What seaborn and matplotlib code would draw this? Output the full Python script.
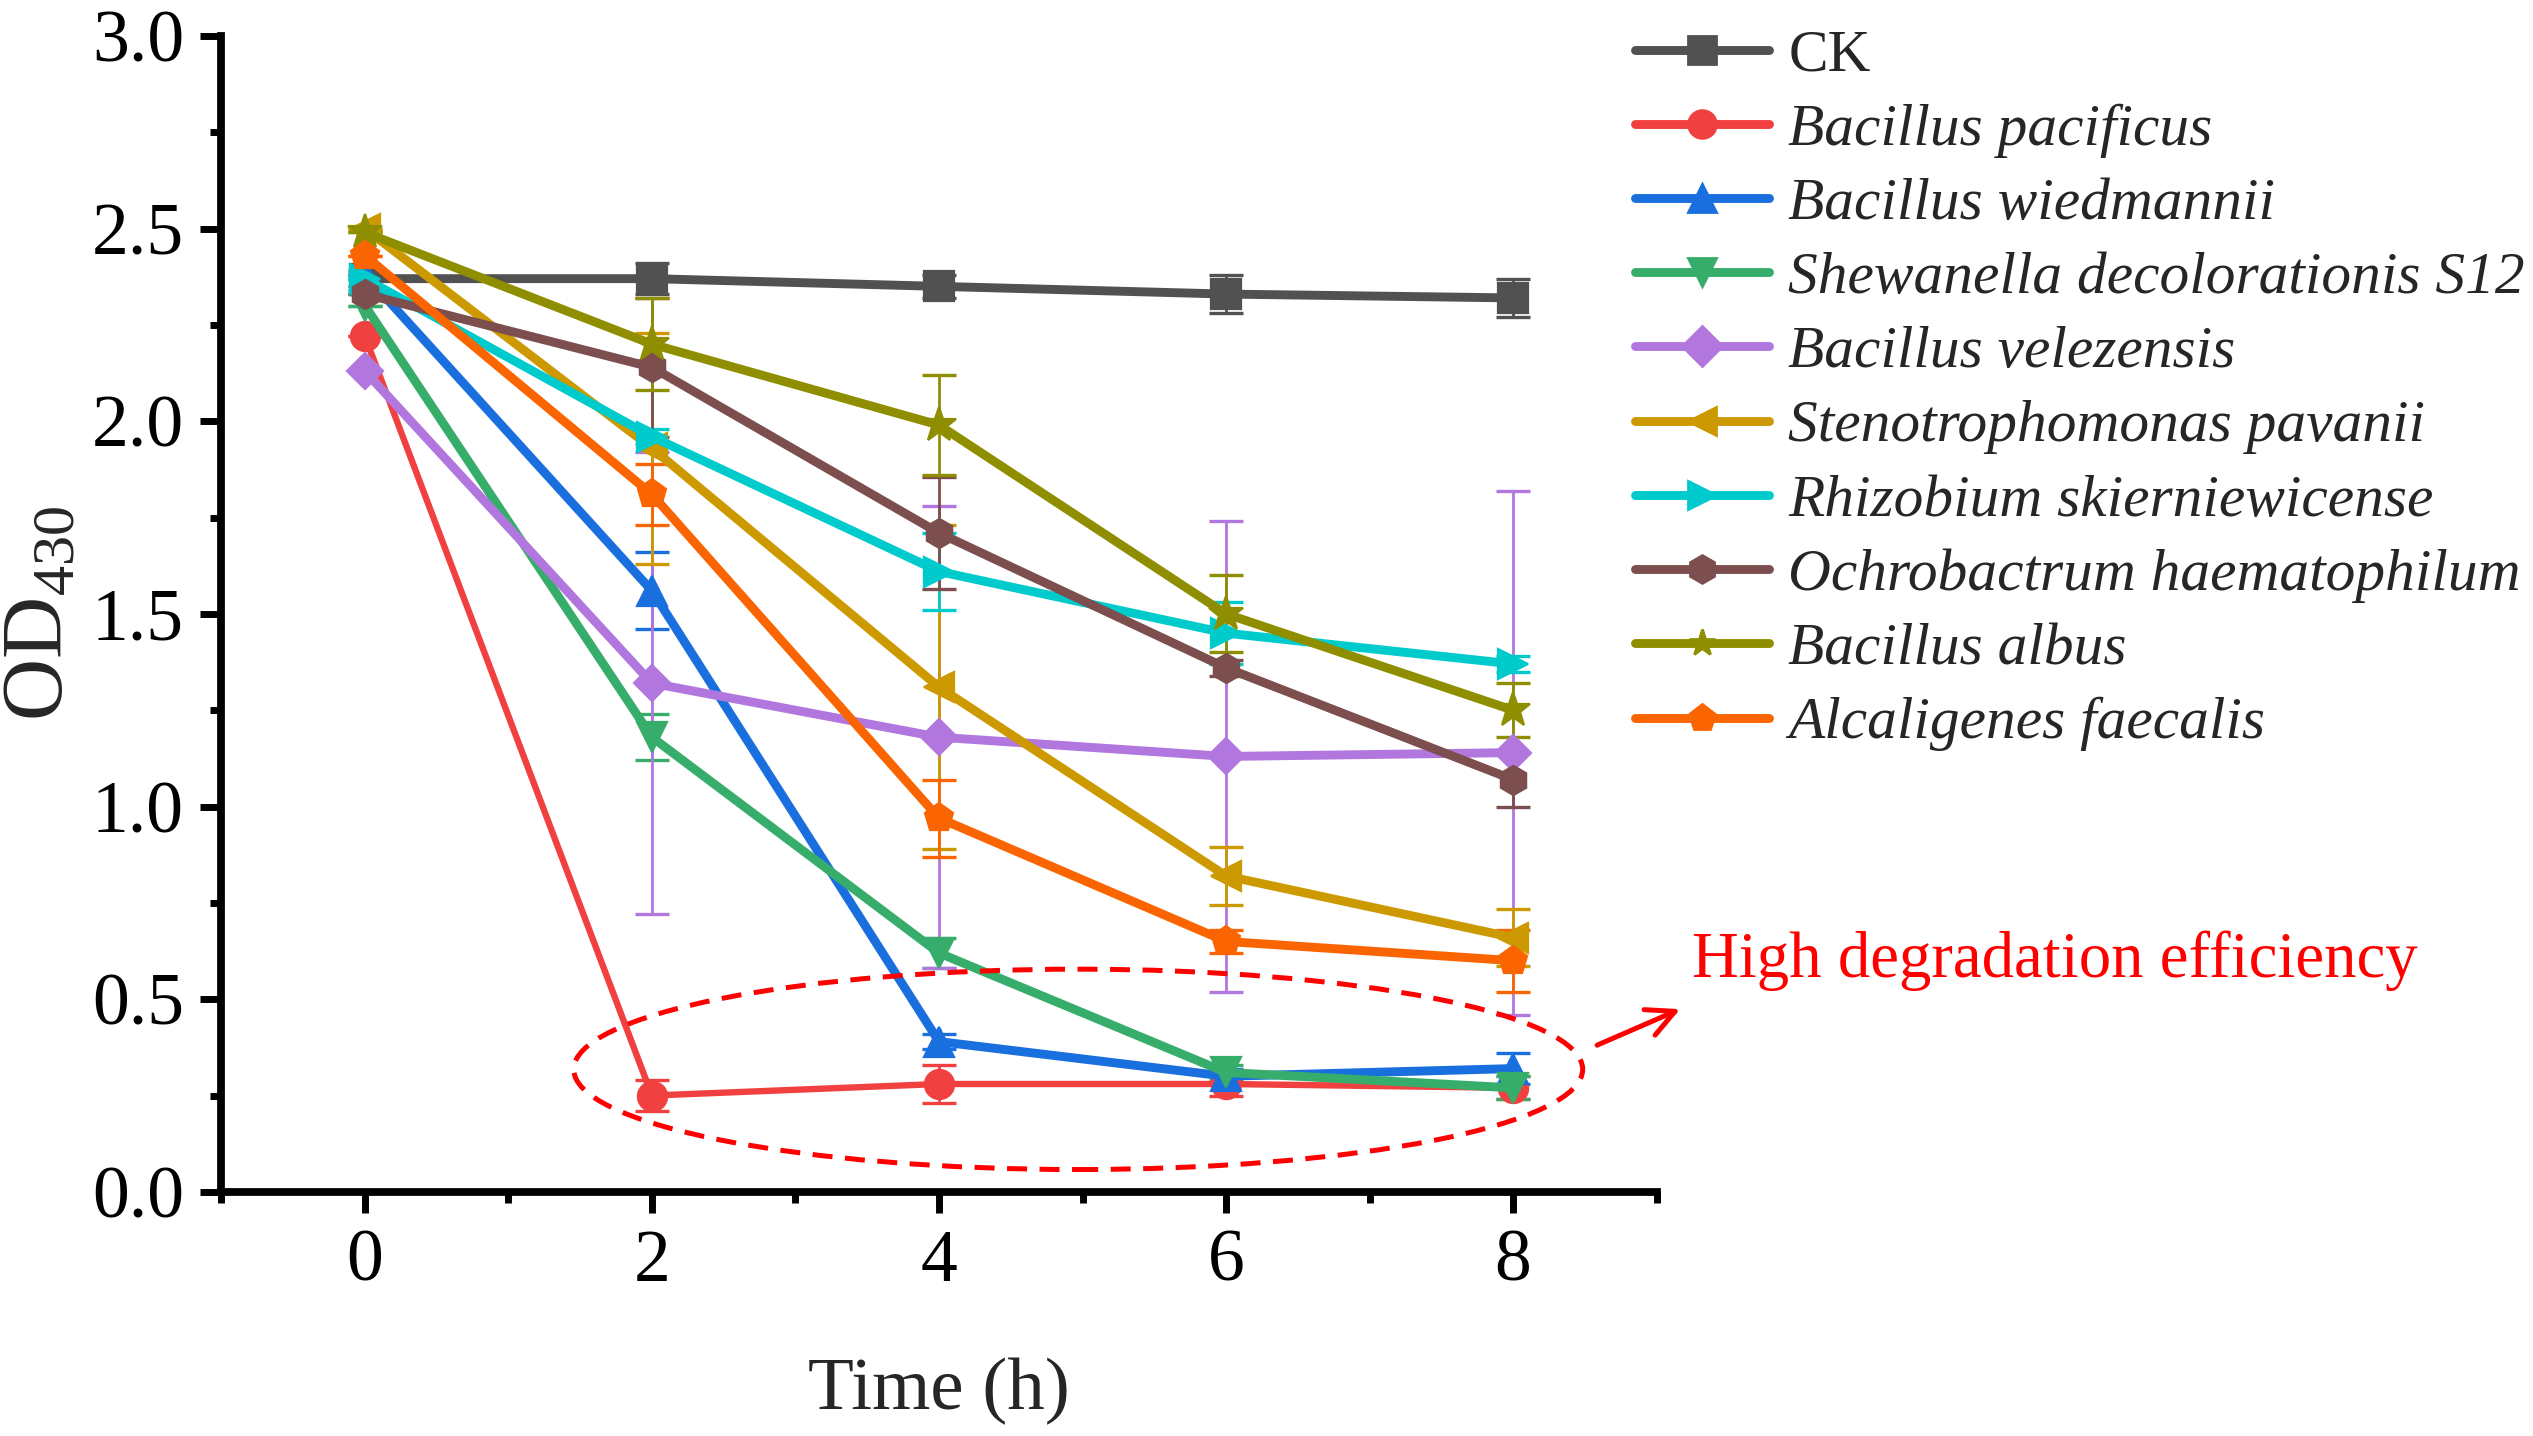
import pandas as pd
import matplotlib
matplotlib.use("Agg")
import matplotlib.pyplot as plt
import seaborn as sns
from matplotlib.lines import Line2D
from matplotlib.patches import Ellipse
from matplotlib.ticker import MultipleLocator

# Tiempo de muestreo (h)
time_h = [0, 2, 4, 6, 8]

strains = ["CK", "Bacillus pacificus", "Bacillus wiedmannii",
           "Shewanella decolorationis S12", "Bacillus velezensis",
           "Stenotrophomonas pavanii", "Rhizobium skierniewicense",
           "Ochrobactrum haematophilum", "Bacillus albus", "Alcaligenes faecalis"]

colors = ["#515151", "#F14040", "#1A6FDF", "#37AD6B", "#B177DE",
          "#CC9900", "#00CBCC", "#7D4E4E", "#8E8E00", "#FB6501"]
markers = ["s", "o", "^", "v", "D", "<", ">", "h", "*", "p"]

# OD430 medio de cada serie
ck = [2.37, 2.37, 2.35, 2.33, 2.32]
b_pacificus = [2.22, 0.25, 0.28, 0.28, 0.27]
b_wiedmannii = [2.38, 1.56, 0.39, 0.30, 0.32]
s_decolorationis = [2.30, 1.18, 0.62, 0.31, 0.27]
b_velezensis = [2.13, 1.32, 1.18, 1.13, 1.14]
s_pavanii = [2.50, 1.93, 1.31, 0.82, 0.66]
r_skierniewicense = [2.37, 1.96, 1.61, 1.45, 1.37]
o_haematophilum = [2.33, 2.14, 1.71, 1.36, 1.07]
b_albus = [2.49, 2.20, 1.99, 1.50, 1.25]
a_faecalis = [2.43, 1.81, 0.97, 0.65, 0.60]

# Desviacion estandar
ck_sd = [0.02, 0.04, 0.03, 0.05, 0.05]
b_pacificus_sd = [0.0, 0.04, 0.05, 0.03, 0.03]
b_wiedmannii_sd = [0.0, 0.10, 0.02, 0.02, 0.04]
s_decolorationis_sd = [0.0, 0.06, 0.04, 0.02, 0.03]
b_velezensis_sd = [0.0, 0.60, 0.60, 0.61, 0.68]
s_pavanii_sd = [0.0, 0.30, 0.42, 0.075, 0.075]
r_skierniewicense_sd = [0.0, 0.02, 0.10, 0.08, 0.02]
o_haematophilum_sd = [0.0, 0.18, 0.145, 0.02, 0.07]
b_albus_sd = [0.0, 0.12, 0.13, 0.10, 0.07]
a_faecalis_sd = [0.0, 0.08, 0.10, 0.03, 0.08]

means = [ck, b_pacificus, b_wiedmannii, s_decolorationis, b_velezensis,
         s_pavanii, r_skierniewicense, o_haematophilum, b_albus, a_faecalis]
sds = [ck_sd, b_pacificus_sd, b_wiedmannii_sd, s_decolorationis_sd, b_velezensis_sd,
       s_pavanii_sd, r_skierniewicense_sd, o_haematophilum_sd, b_albus_sd, a_faecalis_sd]

rows = []
for name, m, s in zip(strains, means, sds):
    for t, v, e in zip(time_h, m, s):
        rows.append({"time": t, "od": v, "sd": e, "strain": name})
df = pd.DataFrame(rows)

sns.set_theme(style="ticks")
plt.rcParams["font.family"] = ["Liberation Serif", "DejaVu Serif"]
plt.rcParams["mathtext.fontset"] = "custom"
plt.rcParams["mathtext.rm"] = "Liberation Serif"
plt.rcParams["mathtext.it"] = "Liberation Serif:italic"

fig = plt.figure(figsize=(12.665, 7.18), dpi=200)
ax = fig.add_axes([0.0874, 0.170, 0.5666, 0.805])

palette = dict(zip(strains, colors))
marker_map = dict(zip(strains, markers))

for name, c in zip(strains, colors):
    sub = df[df["strain"] == name]
    ax.errorbar(sub["time"], sub["od"], yerr=sub["sd"], fmt="none", ecolor=c,
                elinewidth=1.0, capsize=6, capthick=1.2, zorder=2)

sns.lineplot(data=df, x="time", y="od", hue="strain", style="strain",
             hue_order=strains, style_order=strains, palette=palette,
             markers=marker_map, dashes=False, linewidth=3.2, markersize=10.5,
             legend=False, ax=ax, zorder=3)

for line, name in zip(ax.lines[-len(strains):], strains):
    line.set_markeredgecolor(line.get_color())
    line.set_markeredgewidth(0.8)
    if name == "Bacillus pacificus":
        line.set_linewidth(2.3)
    if name == "Bacillus velezensis":
        line.set_markersize(9)
    if name == "Bacillus albus":
        line.set_markersize(13)

ax.set_xlim(-1, 9)
ax.set_ylim(0, 3.0)
ax.set_xticks(time_h)
ax.set_yticks([0.0, 0.5, 1.0, 1.5, 2.0, 2.5, 3.0])
ax.set_yticklabels(["0.0", "0.5", "1.0", "1.5", "2.0", "2.5", "3.0"])
ax.xaxis.set_minor_locator(MultipleLocator(1))
ax.yaxis.set_minor_locator(MultipleLocator(0.25))
ax.tick_params(which="major", direction="out", length=7.5, width=2.5, labelsize=26.5, pad=6,
               color="black", labelcolor="black")
ax.tick_params(which="minor", direction="out", length=4, width=2.5, color="black")

for side in ["top", "right"]:
    ax.spines[side].set_visible(False)
for side in ["left", "bottom"]:
    ax.spines[side].set_linewidth(2.8)
    ax.spines[side].set_color("black")

ax.set_xlabel("Time (h)", fontsize=27, labelpad=22)
ax.set_ylabel(r"OD$_\mathrm{430}$", fontsize=31, labelpad=4)

# Zona de alta eficiencia de degradacion
ell = Ellipse((4.97, 0.318), 7.03, 0.52, fill=False, edgecolor="red",
              linestyle=(0, (4, 2.5)), linewidth=1.8, zorder=4)
ax.add_patch(ell)
ax.annotate("", xy=(9.2, 0.48), xytext=(8.55, 0.375),
            arrowprops=dict(arrowstyle="->", color="red", lw=1.8, mutation_scale=25),
            annotation_clip=False)
ax.text(9.25, 0.6, "High degradation efficiency", color="red", fontsize=23.3,
        va="center", ha="left", clip_on=False)

handles = [Line2D([], [], color=c, marker=m, linewidth=3.2, markersize=10,
                  markeredgecolor=c) for c, m in zip(colors, markers)]
leg = fig.legend(handles, strains, loc="upper left", bbox_to_anchor=(0.6454, 0.98),
                 frameon=False, fontsize=21.4, handlelength=2.25, handletextpad=0.33,
                 labelspacing=0.33, borderaxespad=0, borderpad=0)
for txt in leg.get_texts():
    if txt.get_text() != "CK":
        txt.set_fontstyle("italic")

fig.savefig("out.png", dpi=200, facecolor="white")
